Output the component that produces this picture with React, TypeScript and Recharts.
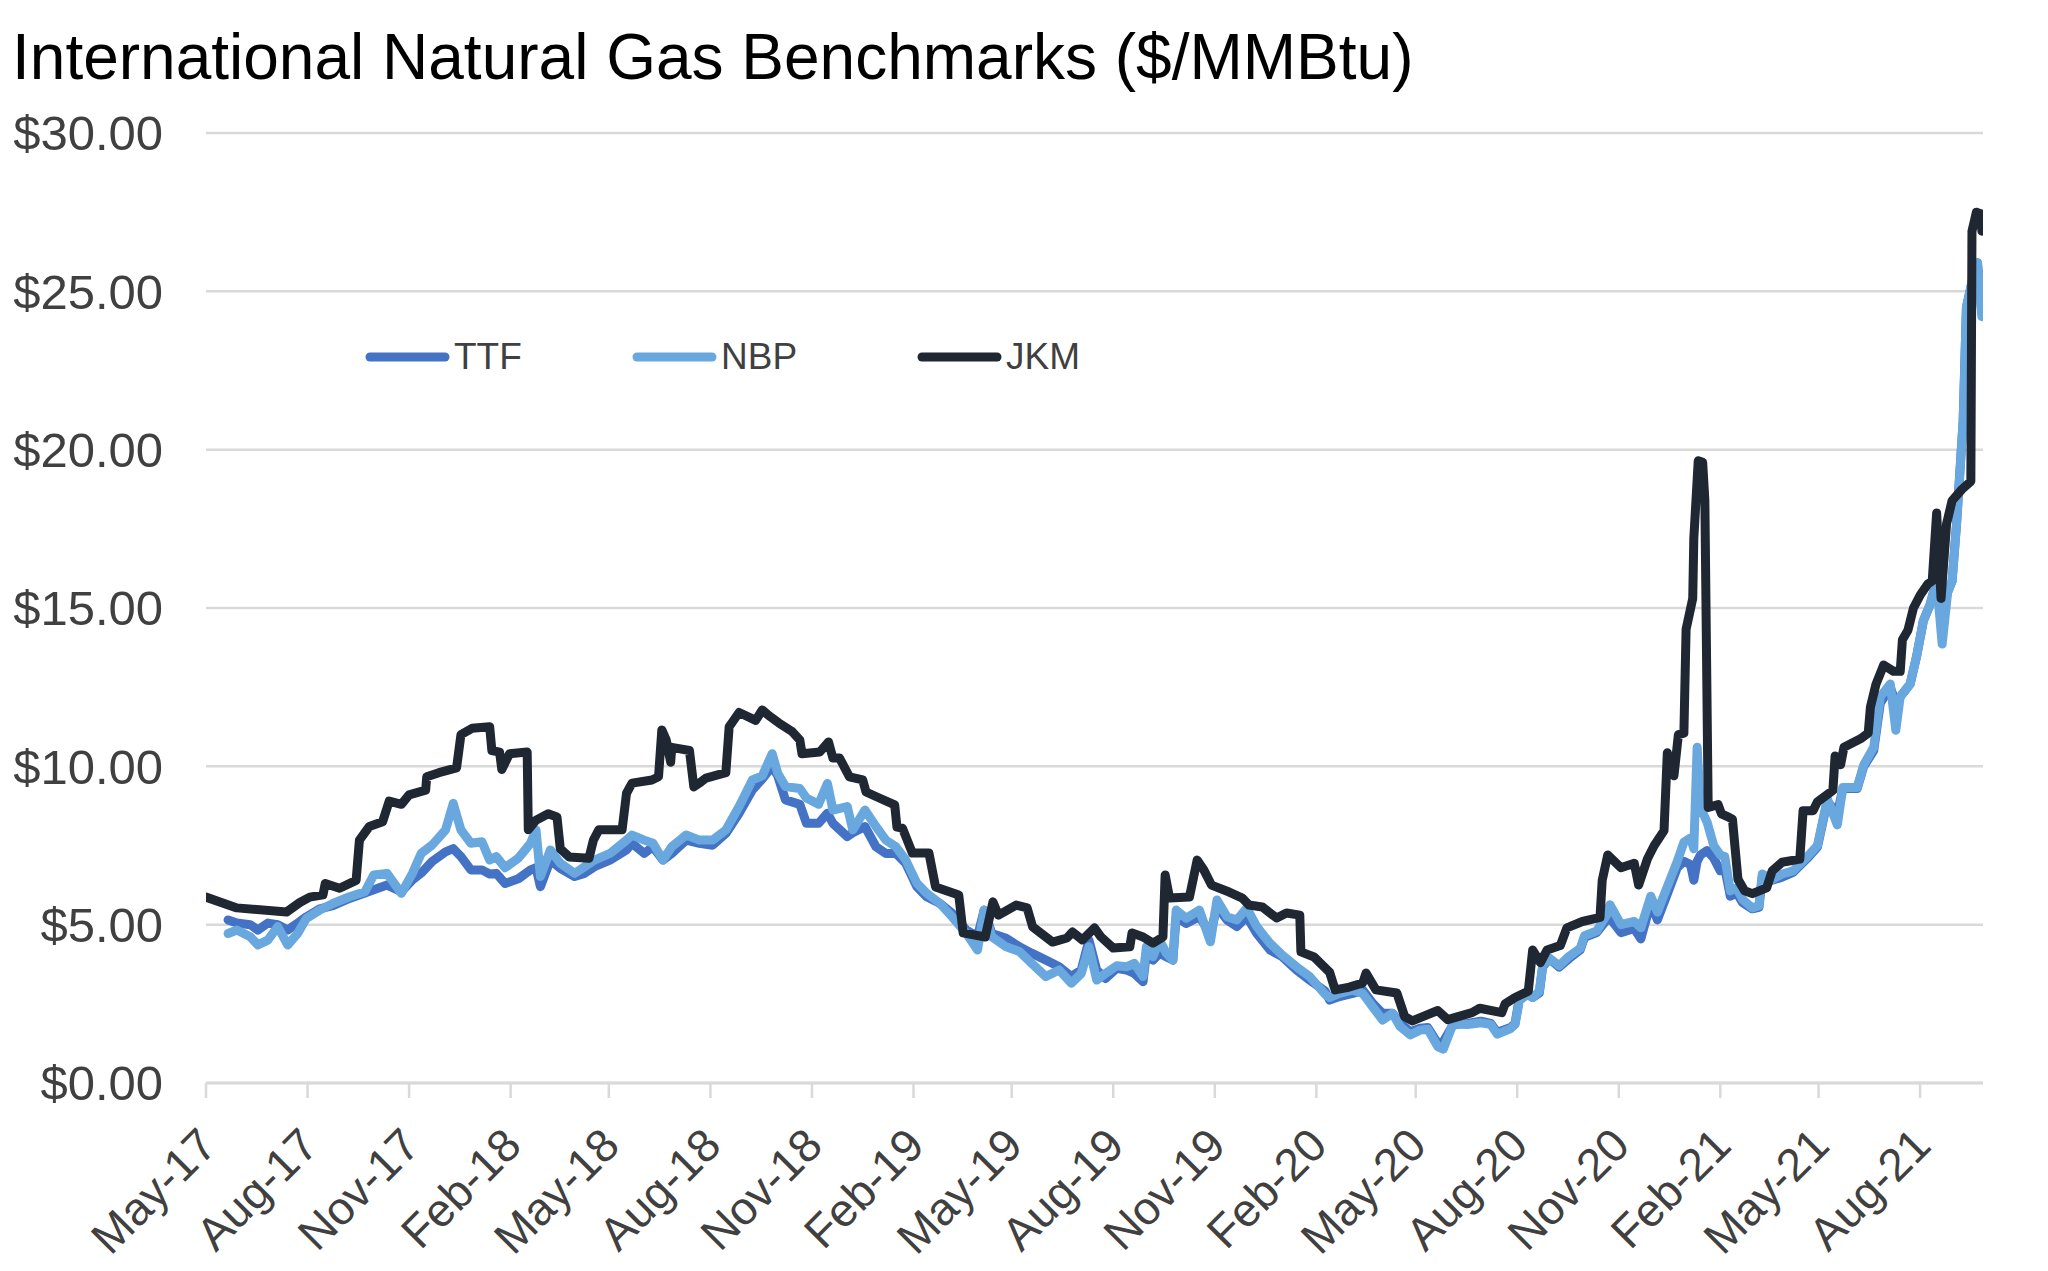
import React from 'react';
import { LineChart, Line, XAxis, YAxis, CartesianGrid, Legend } from 'recharts';

const FONT = '"Liberation Sans", Arial, Helvetica, sans-serif';
const TEXT = '#404040';
const GRID = '#D9D9D9';

// TTF and NBP are read on the same dates
const euDates = [
  '2017-05-21', '2017-05-29', '2017-06-10', '2017-06-17', '2017-06-26', '2017-07-05', '2017-07-14', '2017-07-23',
  '2017-07-31', '2017-08-12', '2017-08-24', '2017-09-08', '2017-09-22', '2017-09-30', '2017-10-12', '2017-10-25',
  '2017-11-04', '2017-11-12', '2017-11-22', '2017-12-04', '2017-12-11', '2017-12-18', '2017-12-27',
  '2018-01-06', '2018-01-13', '2018-01-19', '2018-01-27', '2018-02-08', '2018-02-19', '2018-02-24', '2018-02-28',
  '2018-03-09', '2018-03-18', '2018-03-31', '2018-04-09', '2018-04-18', '2018-05-02', '2018-05-17', '2018-05-22',
  '2018-06-02', '2018-06-10', '2018-06-19', '2018-06-27', '2018-07-10', '2018-07-22', '2018-08-03', '2018-08-15',
  '2018-08-27', '2018-09-08', '2018-09-17', '2018-09-26', '2018-10-01', '2018-10-08', '2018-10-21', '2018-10-27',
  '2018-11-07', '2018-11-15', '2018-11-20', '2018-12-03', '2018-12-08', '2018-12-19', '2018-12-29',
  '2019-01-07', '2019-01-16', '2019-01-25', '2019-02-04', '2019-02-13', '2019-02-25', '2019-03-08', '2019-03-21',
  '2019-03-31', '2019-04-06', '2019-04-13', '2019-04-26', '2019-05-08', '2019-05-19', '2019-06-01', '2019-06-13',
  '2019-06-24', '2019-07-03', '2019-07-10', '2019-07-17', '2019-07-25', '2019-08-04', '2019-08-13', '2019-08-20',
  '2019-08-28', '2019-08-31', '2019-09-06', '2019-09-12', '2019-09-18', '2019-09-24', '2019-09-27', '2019-10-06',
  '2019-10-18', '2019-10-28', '2019-11-03', '2019-11-12', '2019-11-21', '2019-11-30', '2019-12-09', '2019-12-21',
  '2020-01-01', '2020-01-14', '2020-01-26', '2020-02-09', '2020-02-13', '2020-02-22', '2020-03-05', '2020-03-14',
  '2020-03-23', '2020-04-01', '2020-04-10', '2020-04-17', '2020-04-26', '2020-05-05', '2020-05-12', '2020-05-21',
  '2020-05-26', '2020-06-04', '2020-06-17', '2020-06-29', '2020-07-08', '2020-07-14', '2020-07-26', '2020-07-30',
  '2020-08-03', '2020-08-10', '2020-08-15', '2020-08-21', '2020-08-24', '2020-08-30', '2020-09-08', '2020-09-17',
  '2020-09-27', '2020-10-01', '2020-10-12', '2020-10-21', '2020-10-24', '2020-11-03', '2020-11-15', '2020-11-21',
  '2020-11-30', '2020-12-06', '2020-12-15', '2020-12-24', '2020-12-30',
  '2021-01-05', '2021-01-08', '2021-01-11', '2021-01-14', '2021-01-20', '2021-01-26', '2021-02-01', '2021-02-05',
  '2021-02-10', '2021-02-16', '2021-02-21', '2021-03-02', '2021-03-08', '2021-03-11', '2021-03-20', '2021-03-29',
  '2021-04-08', '2021-04-21', '2021-04-30', '2021-05-09', '2021-05-18', '2021-05-23', '2021-06-05', '2021-06-11',
  '2021-06-20', '2021-06-26', '2021-07-05', '2021-07-10', '2021-07-14', '2021-07-23', '2021-07-29', '2021-08-04',
  '2021-08-10', '2021-08-16', '2021-08-21', '2021-08-26', '2021-08-30', '2021-09-03', '2021-09-09', '2021-09-12',
  '2021-09-17', '2021-09-22', '2021-09-26',
];

const ttfValues = [
  5.15, 5.05, 5.0, 4.83, 5.05, 5.0, 4.83, 5.05, 5.25, 5.5, 5.6, 5.83, 6.0, 6.1, 6.25, 6.04, 6.41, 6.63, 7.0, 7.3,
  7.4, 7.15, 6.73,
  6.73, 6.6, 6.62, 6.3, 6.45, 6.73, 6.8, 6.2, 7.04, 6.78, 6.52, 6.62, 6.83, 7.04, 7.36, 7.57, 7.25, 7.46, 7.04,
  7.25, 7.67, 7.57, 7.51, 7.88, 8.52, 9.25, 9.6, 10.0, 9.7, 8.94, 8.8, 8.2, 8.2, 8.52, 8.2, 7.78, 7.9, 8.1, 7.46,
  7.25, 7.25, 6.94, 6.2, 5.88, 5.67, 5.36, 4.83, 4.62, 5.46, 4.72, 4.57, 4.3, 4.1, 3.88, 3.67, 3.36, 3.57, 4.51,
  3.57, 3.3, 3.62, 3.57, 3.46, 3.2, 4.1, 3.88, 4.1, 3.99, 3.88, 5.25, 5.04, 5.25, 4.72, 5.57, 5.15, 4.94, 5.25,
  4.72, 4.2,
  3.99, 3.57, 3.25, 2.9, 2.62, 2.73, 2.83, 2.94, 2.52, 2.2, 2.2, 1.89, 1.62, 1.73, 1.75, 1.25, 1.3, 1.85, 1.88,
  1.95, 1.88, 1.6, 1.75, 1.88, 2.7, 2.84, 2.7, 2.84, 3.66, 3.93, 3.66, 3.93, 4.2, 4.6, 4.75, 5.15, 5.2, 4.75, 4.88,
  4.55, 5.7, 5.15, 5.97, 6.8, 7.0,
  6.9, 6.4, 7.0, 7.2, 7.34, 7.1, 6.7, 6.8, 5.9, 6.0, 5.7, 5.5, 5.55, 6.5, 6.4, 6.5, 6.65, 7.1, 7.45, 8.9, 8.5, 9.3,
  9.3, 10.0, 10.5, 12.0, 12.5, 12.0, 12.2, 12.6, 13.5, 14.6, 15.1, 15.85, 14.95, 15.5, 15.85, 17.66, 20.9, 24.5,
  25.3, 25.9, 24.3,
];

const nbpValues = [
  4.72, 4.83, 4.62, 4.36, 4.51, 4.94, 4.36, 4.72, 5.2, 5.46, 5.67, 5.88, 6.04, 6.57, 6.62, 5.99, 6.62, 7.25, 7.52,
  7.99, 8.83, 7.99, 7.57,
  7.62, 7.04, 7.15, 6.8, 7.1, 7.57, 7.99, 6.52, 7.36, 6.94, 6.62, 6.83, 7.04, 7.25, 7.67, 7.83, 7.67, 7.57, 7.04,
  7.46, 7.83, 7.67, 7.67, 7.99, 8.73, 9.57, 9.7, 10.4, 9.78, 9.36, 9.3, 9.0, 8.8, 9.46, 8.62, 8.73, 7.99, 8.62, 8.1,
  7.67, 7.46, 7.04, 6.31, 5.99, 5.67, 5.25, 4.72, 4.2, 5.46, 4.62, 4.3, 4.15, 3.78, 3.36, 3.57, 3.15, 3.46, 4.3,
  3.25, 3.46, 3.7, 3.67, 3.78, 3.36, 4.3, 3.99, 4.51, 4.1, 3.88, 5.46, 5.2, 5.46, 4.46, 5.78, 5.25, 5.15, 5.52,
  4.94, 4.41,
  4.04, 3.67, 3.36, 2.8, 2.7, 2.83, 2.94, 2.83, 2.41, 1.99, 2.2, 1.78, 1.52, 1.67, 1.7, 1.15, 1.07, 1.88, 1.85,
  1.9, 1.85, 1.54, 1.72, 1.85, 2.6, 2.8, 2.7, 2.9, 3.7, 3.95, 3.7, 4.0, 4.25, 4.65, 4.8, 5.3, 5.63, 5.0, 5.1, 4.9,
  5.9, 5.4, 6.2, 7.0, 7.6,
  7.74, 7.4, 10.6, 8.7, 8.24, 7.5, 7.2, 7.15, 6.07, 6.16, 5.8, 5.53, 5.6, 6.6, 6.43, 6.6, 6.7, 7.15, 7.5, 8.97,
  8.15, 9.33, 9.33, 10.05, 10.6, 12.2, 12.6, 11.14, 12.2, 12.6, 13.5, 14.6, 15.1, 15.85, 13.86, 15.5, 15.85, 17.6,
  20.9, 24.5, 25.3, 25.9, 24.2,
];

const jkmDates = [
  '2017-05-01', '2017-05-29', '2017-07-13', '2017-07-25', '2017-08-03', '2017-08-15', '2017-08-17', '2017-08-30',
  '2017-09-14', '2017-09-17', '2017-09-26', '2017-10-08', '2017-10-14', '2017-10-25', '2017-11-01', '2017-11-16',
  '2017-11-17', '2017-11-28', '2017-12-14', '2017-12-18', '2017-12-28',
  '2018-01-13', '2018-01-15', '2018-01-22', '2018-01-24', '2018-01-31', '2018-02-16', '2018-02-17', '2018-02-24',
  '2018-03-07', '2018-03-15', '2018-03-18', '2018-03-26', '2018-04-13', '2018-04-17', '2018-04-22', '2018-05-13',
  '2018-05-17', '2018-05-22', '2018-06-09', '2018-06-15', '2018-06-18', '2018-06-22', '2018-06-26', '2018-06-27',
  '2018-07-13', '2018-07-17', '2018-07-22', '2018-07-28', '2018-08-15', '2018-08-18', '2018-08-27', '2018-09-11',
  '2018-09-17', '2018-09-23', '2018-10-02', '2018-10-14', '2018-10-21', '2018-10-23', '2018-11-08', '2018-11-16',
  '2018-11-20', '2018-11-26', '2018-12-05', '2018-12-17', '2018-12-20',
  '2019-01-01', '2019-01-15', '2019-01-17', '2019-01-22', '2019-01-31', '2019-02-15', '2019-02-21', '2019-03-14',
  '2019-03-18', '2019-04-07', '2019-04-14', '2019-04-19', '2019-05-05', '2019-05-15', '2019-05-20', '2019-06-07',
  '2019-06-20', '2019-06-25', '2019-07-04', '2019-07-15', '2019-07-21', '2019-08-01', '2019-08-16', '2019-08-18',
  '2019-08-28', '2019-09-06', '2019-09-15', '2019-09-17', '2019-09-21', '2019-10-09', '2019-10-16', '2019-10-22',
  '2019-10-29', '2019-11-14', '2019-11-26', '2019-12-02', '2019-12-14', '2019-12-27',
  '2020-01-05', '2020-01-17', '2020-01-18', '2020-01-30', '2020-02-13', '2020-02-18', '2020-03-02', '2020-03-14',
  '2020-03-17', '2020-03-26', '2020-04-14', '2020-04-21', '2020-04-28', '2020-05-21', '2020-05-30', '2020-06-21',
  '2020-06-28', '2020-07-18', '2020-07-21', '2020-07-30', '2020-08-11', '2020-08-15', '2020-08-22', '2020-08-28',
  '2020-09-09', '2020-09-15', '2020-09-29', '2020-10-15', '2020-10-17', '2020-10-22', '2020-11-03', '2020-11-15',
  '2020-11-19', '2020-11-27', '2020-12-03', '2020-12-12', '2020-12-15', '2020-12-21', '2020-12-25', '2020-12-30',
  '2021-01-01', '2021-01-07', '2021-01-08', '2021-01-12', '2021-01-16', '2021-01-18', '2021-01-21', '2021-01-30',
  '2021-02-02', '2021-02-07', '2021-02-12', '2021-02-17', '2021-02-23', '2021-03-02', '2021-03-15', '2021-03-20',
  '2021-03-29', '2021-04-14', '2021-04-17', '2021-04-26', '2021-04-30', '2021-05-14', '2021-05-16', '2021-05-21',
  '2021-05-24', '2021-06-08', '2021-06-15', '2021-06-17', '2021-06-22', '2021-06-29', '2021-07-08', '2021-07-14',
  '2021-07-16', '2021-07-21', '2021-07-26', '2021-08-01', '2021-08-08', '2021-08-12', '2021-08-16', '2021-08-20',
  '2021-08-25', '2021-08-30', '2021-09-08', '2021-09-16', '2021-09-17', '2021-09-21', '2021-09-25', '2021-09-26',
];

const jkmValues = [
  5.87, 5.53, 5.4, 5.7, 5.87, 5.94, 6.3, 6.15, 6.4, 7.67, 8.1, 8.25, 8.9, 8.8, 9.1, 9.25, 9.67, 9.8, 9.95, 11.0,
  11.2,
  11.25, 10.5, 10.45, 9.9, 10.4, 10.45, 8.0, 8.3, 8.5, 8.4, 7.4, 7.14, 7.1, 7.67, 8.0, 8.0, 9.15, 9.47, 9.57, 9.67,
  11.15, 10.83, 10.13, 10.6, 10.5, 9.35, 9.47, 9.63, 9.8, 11.25, 11.7, 11.45, 11.78, 11.6, 11.37, 11.1, 10.83,
  10.4, 10.45, 10.77, 10.26, 10.26, 9.67, 9.57, 9.19,
  9.0, 8.78, 8.08, 8.05, 7.26, 7.26, 6.19, 5.94, 4.74, 4.61, 5.72, 5.3, 5.62, 5.53, 4.93, 4.45, 4.58, 4.77, 4.52,
  4.9, 4.61, 4.26, 4.3, 4.74, 4.61, 4.42, 4.61, 6.57, 5.84, 5.87, 7.04, 6.73, 6.25, 6.03, 5.84, 5.62, 5.56, 5.21,
  5.37, 5.3, 4.14, 3.98, 3.5, 2.94, 3.03, 3.16, 3.47, 2.94, 2.84, 2.1, 1.96, 2.29, 2.0, 2.22, 2.36, 2.22, 2.5, 2.7,
  2.9, 4.2, 3.8, 4.2, 4.34, 4.9, 5.1, 5.23, 6.4, 7.2, 6.8, 6.94, 6.25, 7.08, 7.49, 7.97, 10.43, 9.7, 11.0, 11.05,
  14.33, 15.3, 17.2, 19.65, 19.6, 18.4, 8.7, 8.79, 8.5, 8.42, 8.33, 6.43, 6.07, 5.98, 6.16, 6.7, 6.97, 7.07, 8.6,
  8.6, 8.88, 9.24, 10.33, 10.05, 10.6, 10.87, 11.05, 11.87, 12.59, 13.2, 13.0, 13.0, 14.0, 14.3, 15.0, 15.4, 15.76,
  15.85, 18.0, 15.3, 17.66, 18.39, 18.75, 19.0, 26.9, 27.5, 27.45, 26.9,
];

const tickDates = [
  '2017-05-01', '2017-08-01', '2017-11-01', '2018-02-01', '2018-05-01', '2018-08-01', '2018-11-01', '2019-02-01',
  '2019-05-01', '2019-08-01', '2019-11-01', '2020-02-01', '2020-05-01', '2020-08-01', '2020-11-01', '2021-02-01',
  '2021-05-01', '2021-08-01',
];
const tickLabels = [
  'May-17', 'Aug-17', 'Nov-17', 'Feb-18', 'May-18', 'Aug-18', 'Nov-18', 'Feb-19', 'May-19', 'Aug-19', 'Nov-19',
  'Feb-20', 'May-20', 'Aug-20', 'Nov-20', 'Feb-21', 'May-21', 'Aug-21',
];
const yTicks = [0, 5, 10, 15, 20, 25, 30];

const series = [
  { key: 'ttf', name: 'TTF', color: '#4472C4' },
  { key: 'nbp', name: 'NBP', color: '#69A7DF' },
  { key: 'jkm', name: 'JKM', color: '#1F2733' },
];
const legendLeft = [362, 629, 914];

const toTime = (d: string) => Date.parse(d);
const tickTimes = tickDates.map(toTime);
const xDomain = [toTime('2017-05-01'), toTime('2021-09-27')];

const rows = [
  ...euDates.map((d, i) => ({ t: toTime(d), ttf: ttfValues[i], nbp: nbpValues[i] })),
  ...jkmDates.map((d, i) => ({ t: toTime(d), jkm: jkmValues[i] })),
].sort((a, b) => a.t - b.t);

const XTick = (props: any) => {
  const { x, y, payload } = props;
  const ax = x + 13;
  const ay = y + 50;
  const label = tickLabels[tickTimes.indexOf(payload.value)];
  return (
    <text
      x={ax}
      y={ay}
      transform={`rotate(-45 ${ax} ${ay})`}
      textAnchor="end"
      fill={TEXT}
      fontSize={46}
      fontFamily={FONT}
    >
      {label}
    </text>
  );
};

const renderLegend = () => (
  <div style={{ position: 'relative', width: 2048, height: 60 }}>
    {series.map((s, i) => (
      <div
        key={s.key}
        style={{ position: 'absolute', left: legendLeft[i], top: 0, height: 60, display: 'flex', alignItems: 'center' }}
      >
        <svg width={92} height={60}>
          <line x1={8} y1={30} x2={83} y2={30} stroke={s.color} strokeWidth={9} strokeLinecap="round" />
        </svg>
        <span style={{ fontSize: 37, color: TEXT, fontFamily: FONT, whiteSpace: 'nowrap' }}>{s.name}</span>
      </div>
    ))}
  </div>
);

export default function App() {
  return (
    <div
      style={{
        position: 'absolute',
        left: 0,
        top: 0,
        width: 2048,
        height: 1271,
        background: '#fff',
        overflow: 'hidden',
      }}
    >
      <div
        style={{
          position: 'absolute',
          left: 12,
          top: 25,
          fontSize: 64,
          lineHeight: 1,
          fontFamily: FONT,
          color: '#000',
          whiteSpace: 'nowrap',
        }}
      >
        International Natural Gas Benchmarks ($/MMBtu)
      </div>
      <LineChart width={2048} height={1271} data={rows} margin={{ top: 133, right: 65, bottom: 0, left: 0 }}>
        <CartesianGrid vertical={false} stroke={GRID} strokeWidth={2.5} />
        <XAxis
          dataKey="t"
          type="number"
          domain={xDomain}
          ticks={tickTimes}
          interval={0}
          allowDataOverflow
          height={188}
          tickSize={15}
          tickMargin={0}
          axisLine={{ stroke: GRID, strokeWidth: 3 }}
          tickLine={{ stroke: GRID, strokeWidth: 2.5 }}
          tick={<XTick />}
        />
        <YAxis
          type="number"
          domain={[0, 30]}
          ticks={yTicks}
          width={206}
          axisLine={false}
          tickLine={false}
          tickMargin={37}
          tick={{ fontSize: 49, fill: TEXT, fontFamily: FONT }}
          tickFormatter={(v: number) => `$${v.toFixed(2)}`}
        />
        <Legend
          layout="horizontal"
          verticalAlign="middle"
          align="center"
          wrapperStyle={{ left: 0, top: 327, width: 2048 }}
          content={renderLegend}
        />
        {series.map((s) => (
          <Line
            key={s.key}
            dataKey={s.key}
            name={s.name}
            type="linear"
            stroke={s.color}
            strokeWidth={9}
            strokeLinejoin="round"
            strokeLinecap="round"
            dot={false}
            activeDot={false}
            connectNulls
            isAnimationActive={false}
          />
        ))}
      </LineChart>
    </div>
  );
}
